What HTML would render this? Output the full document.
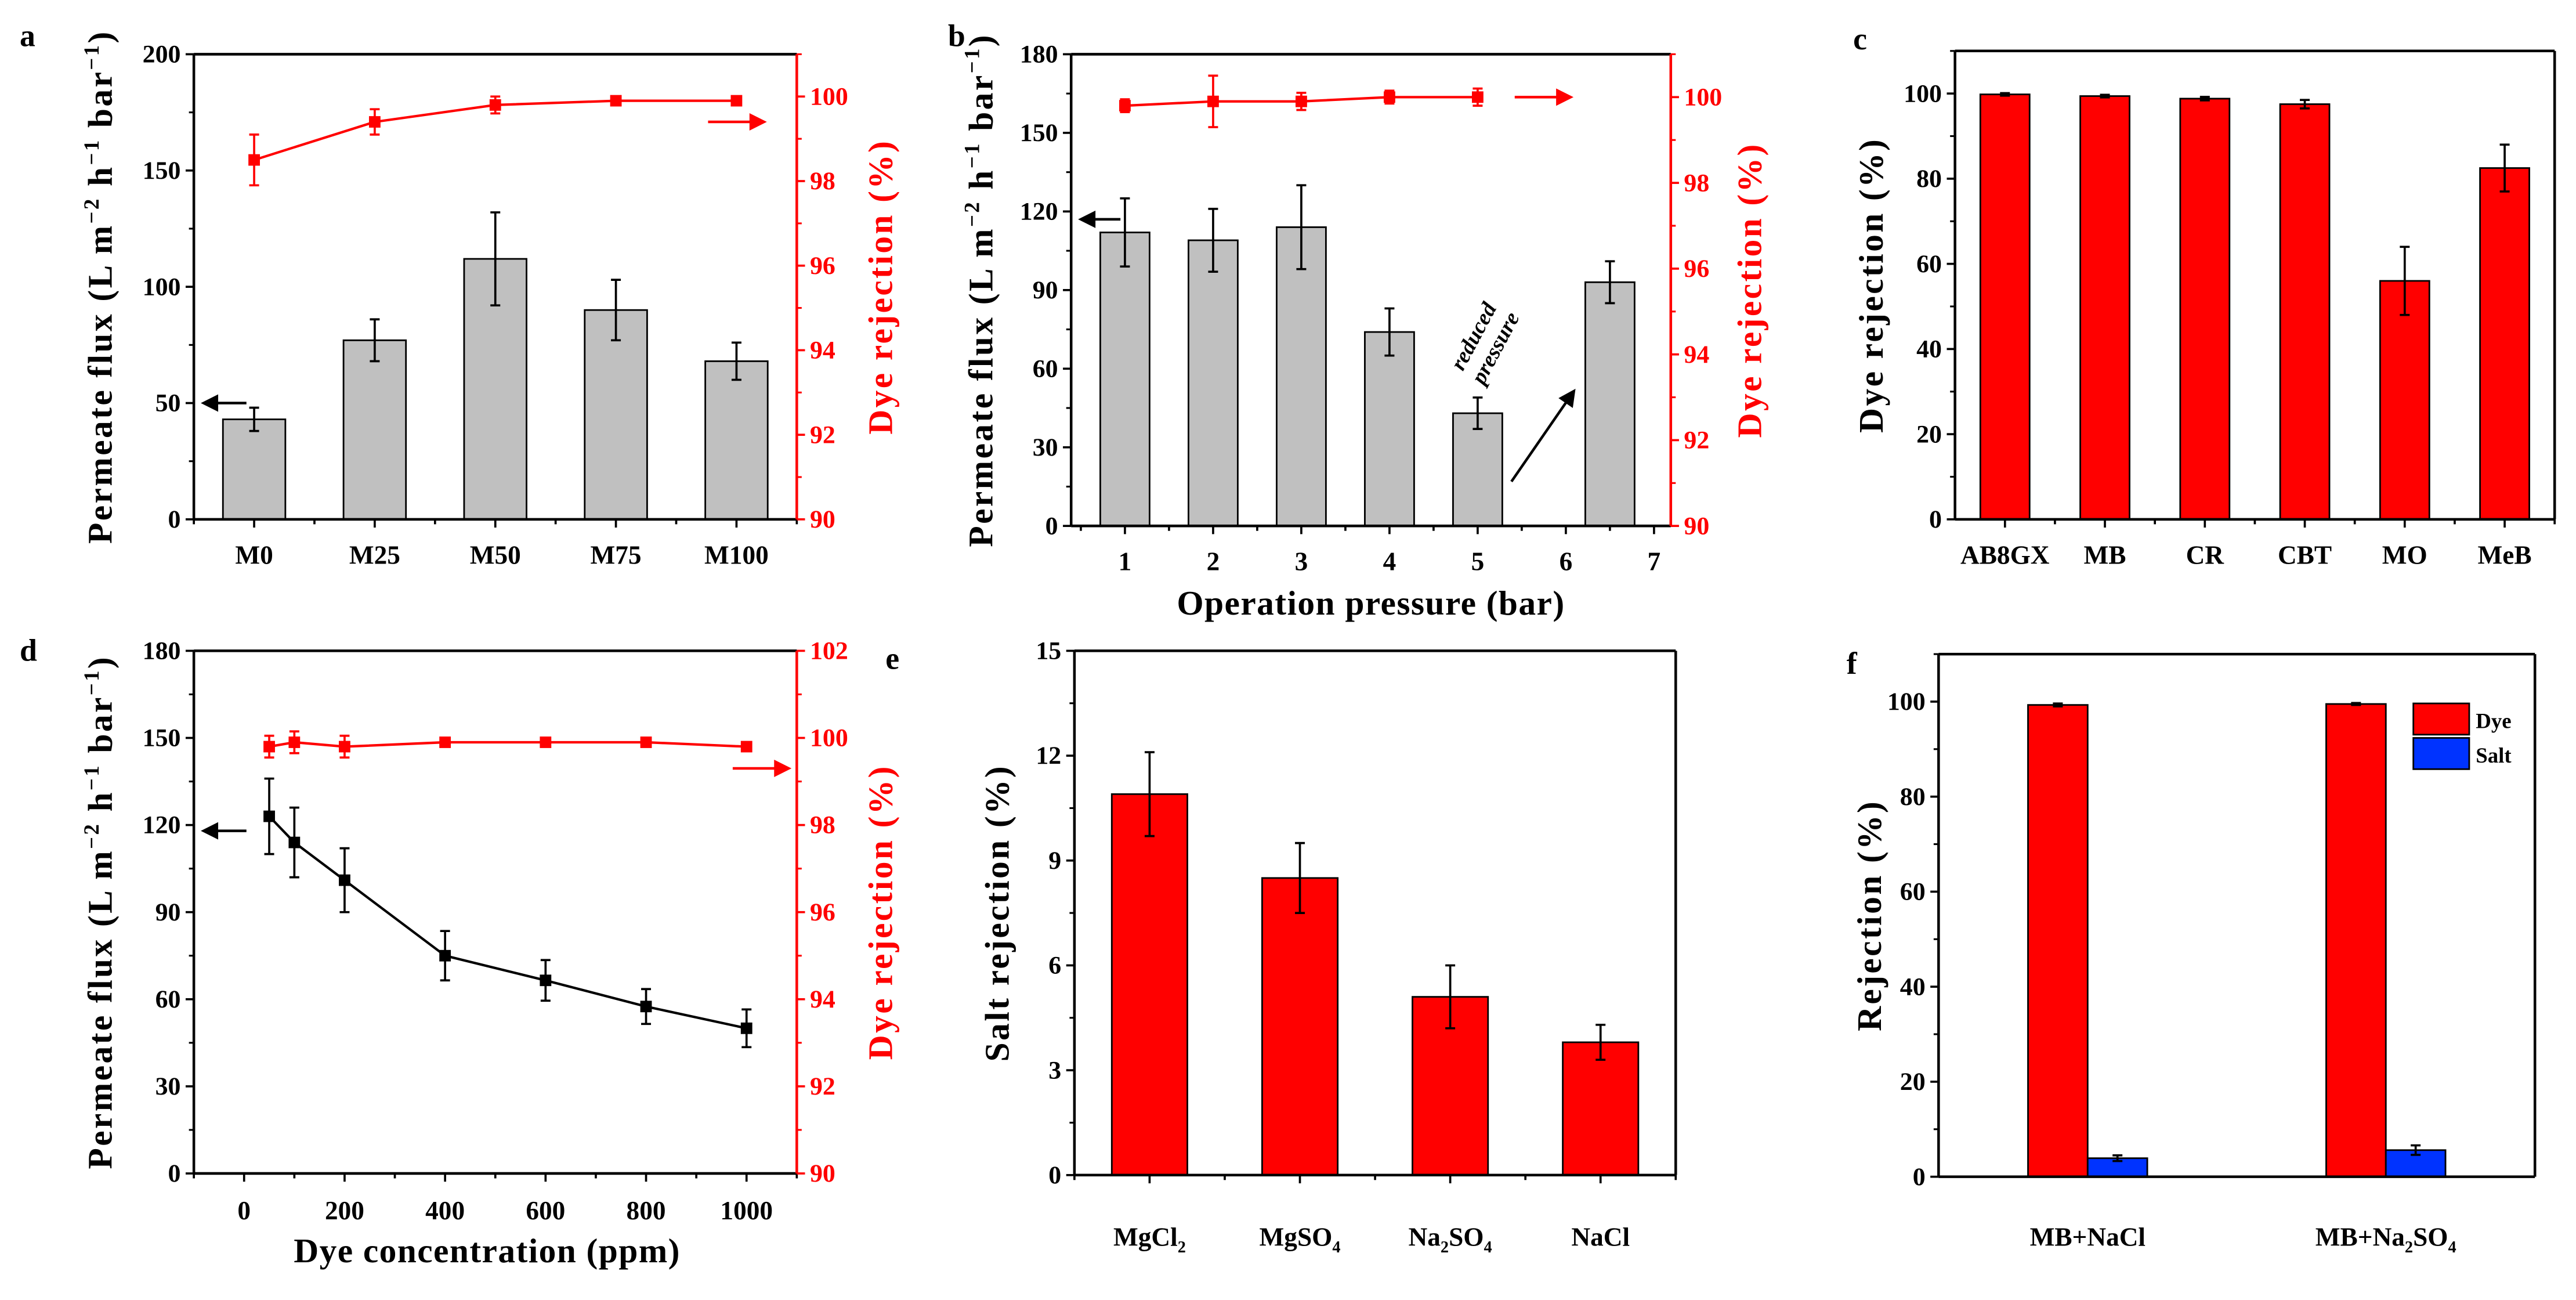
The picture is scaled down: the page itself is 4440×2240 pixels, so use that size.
<!DOCTYPE html>
<html><head><meta charset="utf-8"><style>
html,body{margin:0;padding:0;background:#fff;}
svg{display:block;font-family:"Liberation Serif",serif;font-weight:bold;}
</style></head><body>
<svg id="fig" xmlns="http://www.w3.org/2000/svg" width="4440" height="2240" viewBox="0 0 1568 791" preserveAspectRatio="none"></svg>
<script>
// ---- data ----
const aCats = ["M0","M25","M50","M75","M100"];
const aFlux = [43, 77, 112, 90, 68];
const aFluxErr = [5, 9, 20, 13, 8];
const aRej = [98.5, 99.4, 99.8, 99.9, 99.9];
const aRejErr = [0.6, 0.3, 0.2, 0.1, 0.1];

const bPressure = [1, 2, 3, 4, 5, 6.5];
const bFlux = [112, 109, 114, 74, 43, 93];
const bFluxErr = [13, 12, 16, 9, 6, 8];
const bRejPressure = [1, 2, 3, 4, 5];
const bRej = [99.8, 99.9, 99.9, 100.0, 100.0];
const bRejErr = [0.15, 0.6, 0.2, 0.15, 0.2];
const bTicks = [1, 2, 3, 4, 5, 6, 7];

const cCats = ["AB8GX","MB","CR","CBT","MO","MeB"];
const cRej = [99.8, 99.4, 98.8, 97.5, 56, 82.5];
const cErr = [0.3, 0.3, 0.4, 1.0, 8, 5.5];

const dConc = [50, 100, 200, 400, 600, 800, 1000];
const dFlux = [123, 114, 101, 75, 66.5, 57.5, 50];
const dFluxErr = [13, 12, 11, 8.5, 7, 6, 6.5];
const dRej = [99.8, 99.9, 99.8, 99.9, 99.9, 99.9, 99.8];
const dRejErr = [0.25, 0.25, 0.25, 0.1, 0.1, 0.1, 0.08];
const dTicks = [0, 200, 400, 600, 800, 1000];

const eCats = [["MgCl","2",""],["MgSO","4",""],["Na","2","SO","4"],["NaCl","",""]];
const eRej = [10.9, 8.5, 5.1, 3.8];
const eErr = [1.2, 1.0, 0.9, 0.5];

const fCats = [["MB+NaCl"],["MB+Na","2","SO","4"]];
const fDye = [99.3, 99.5];
const fDyeErr = [0.3, 0.2];
const fSalt = [3.9, 5.6];
const fSaltErr = [0.6, 1.0];

// ---- helpers ----
const NS = "http://www.w3.org/2000/svg";
const svg = document.getElementById('fig');
function mk(tag, parent, attrs){
  const e = document.createElementNS(NS, tag);
  for (const k in attrs) e.setAttribute(k, attrs[k]);
  (parent||svg).appendChild(e);
  return e;
}
function scale(d0,d1,r0,r1){ return v => r0 + (v-d0)/(d1-d0)*(r1-r0); }

function frame(g, L,R,T,B, rightColor){
  const l1 = mk('line', g, {x1:L,y1:B,x2:R,y2:B,stroke:'#000','stroke-width':1.6});
  
  
  const l2 = mk('line', g, {x1:L,y1:T,x2:L,y2:B,stroke:'#000','stroke-width':1.6});
  
  
  const l3 = mk('line', g, {x1:L,y1:T,x2:R,y2:T,stroke:'#000','stroke-width':1.6});
  
  
  const l4 = mk('line', g, {x1:R,y1:T,x2:R,y2:B,stroke:rightColor,'stroke-width':1.6});
  
  
}
function yTicks(g, sy, x, vals, minor, side, color, labelFn){
  const dir = side==='left' ? -1 : 1;
  vals.forEach(v=>{
    const y = sy(v);
    const t = mk('line', g, {x1:x,y1:y,x2:x+dir*5,y2:y,stroke:color,'stroke-width':1.3});
    
    
    const lb = mk('text', g, {x:x+dir*8,y:y+5,'font-size':15.5,fill:color,'text-anchor':side==='left'?'end':'start'});
    lb.textContent = labelFn ? labelFn(v) : v;
    
    
  });
  minor.forEach(v=>{
    const y = sy(v);
    const t = mk('line', g, {x1:x,y1:y,x2:x+dir*3,y2:y,stroke:color,'stroke-width':1.1});
    
    
  });
}
function xTick(g, x, B, len){
  const t = mk('line', g, {x1:x,y1:B,x2:x,y2:B+len,stroke:'#000','stroke-width':1.3});
  
  
}
function xLabel(g, x, y, parts){
  const t = mk('text', g, {x:x,y:y,'font-size':16,'text-anchor':'middle'});
  
  
  parts.forEach((p,i)=>{
    if(p==='') return;
    const s = mk('tspan', t, {});
    if(i%2===1){ s.setAttribute('font-size',10); s.setAttribute('dy',4); }
    else if(i>0){ s.setAttribute('dy',-4); }
    s.textContent = p;
  });
}
function errBar(g, x, y1, y2, color, cap){
  const e = mk('path', g, {d:`M${x},${y1}V${y2}M${x-cap},${y1}H${x+cap}M${x-cap},${y2}H${x+cap}`,stroke:color,'stroke-width':1.3,fill:'none'});
  
  
}
function bar(g, x, w, y, B, fill, name){
  const r = mk('rect', g, {x:x-w/2,y:y,width:w,height:B-y,fill:fill,stroke:'#000','stroke-width':1});
  
  
}
function marker(g, x, y, color){
  const m = mk('rect', g, {x:x-3.5,y:y-3.5,width:7,height:7,fill:color});
  
  
}
function yTitle(g, x, y, text, color, supers){
  const t = mk('text', g, {x:x,y:y,'font-size':21,fill:color,'text-anchor':'middle','letter-spacing':1.2,transform:`rotate(-90 ${x} ${y})`});
  
  
  if(!supers){ t.textContent = text; return; }
  supers.forEach((p,i)=>{
    const s = mk('tspan', t, {});
    if(i%2===1){ s.setAttribute('font-size',13); s.setAttribute('dy',-8); }
    else if(i>0){ s.setAttribute('dy',8); }
    s.textContent = p;
  });
}
function arrow(g, x1, y1, x2, y2, color){
  const ang = Math.atan2(y2-y1, x2-x1);
  const hx = x2 - 8*Math.cos(ang), hy = y2 - 8*Math.sin(ang);
  const px = -Math.sin(ang)*4, py = Math.cos(ang)*4;
  const p = mk('path', g, {d:`M${x1},${y1}L${hx},${hy}M${x2},${y2}L${hx+px},${hy+py}L${hx-px},${hy-py}Z`,stroke:color,'stroke-width':1.6,fill:color});
  
  
}
function letter(g, x, y, s){
  const t = mk('text', g, {x:x,y:y,'font-size':19});
  t.textContent = s;
  
  
}
const fluxTitle = ["Permeate flux (L m","−2"," h","−1"," bar","−1",")"];
function range(a,b,s){const r=[];for(let v=a;v<=b+1e-9;v+=s)r.push(+v.toFixed(4));return r;}

// ---- panel a ----
(function(){
  const g = mk('g', svg, {});  
  const L=118,R=485,T=33,B=316;
  const sx = scale(0.5, aCats.length+0.5, L, R);
  const sy = scale(0,200,B,T), sy2 = scale(90,101,B,T);
  aCats.forEach((c,i)=>{
    bar(g, sx(i+1), 38, sy(aFlux[i]), B, '#c0c0c0', 'flux-bar');
    errBar(g, sx(i+1), sy(aFlux[i]+aFluxErr[i]), sy(aFlux[i]-aFluxErr[i]), '#000', 3);
    xTick(g, sx(i+1), B, 5); xTick(g, sx(i+1.5), B, 3);
    xLabel(g, sx(i+1), B+27, [c]);
  });
  xTick(g, sx(0.5), B, 3);
  const pts = aRej.map((v,i)=>`${sx(i+1)},${sy2(v)}`).join(' ');
  const ln = mk('polyline', g, {points:pts,fill:'none',stroke:'#f00','stroke-width':1.5});
   
  aRej.forEach((v,i)=>{ errBar(g, sx(i+1), sy2(v+aRejErr[i]), sy2(v-aRejErr[i]), '#f00', 3); marker(g, sx(i+1), sy2(v), '#f00'); });
  frame(g,L,R,T,B,'#f00');
  yTicks(g, sy, L, range(0,200,50), range(25,175,50), 'left', '#000');
  yTicks(g, sy2, R, range(90,100,2), range(91,101,2), 'right', '#f00');
  arrow(g, 150, sy(50), 124, sy(50), '#000');
  arrow(g, 431, sy2(99.4), 465, sy2(99.4), '#f00');
  yTitle(g, 68, (T+B)/2, null, '#000', fluxTitle);
  yTitle(g, 543, (T+B)/2, 'Dye rejection (%)', '#f00');
  letter(g, 12, 28, 'a');
})();

// ---- panel b ----
(function(){
  const g = mk('g', svg, {});  
  const L=652,R=1017,T=33,B=320;
  const sx = scale(0.39, 7.19, L, R);
  const sy = scale(0,180,B,T), sy2 = scale(90,101,B,T);
  bPressure.forEach((p,i)=>{
    bar(g, sx(p), 30, sy(bFlux[i]), B, '#c0c0c0', 'flux-bar');
    errBar(g, sx(p), sy(bFlux[i]+bFluxErr[i]), sy(bFlux[i]-bFluxErr[i]), '#000', 3);
  });
  bTicks.forEach(t=>{ xTick(g, sx(t), B, 5); xLabel(g, sx(t), B+27, [String(t)]); });
  range(0.5,6.5,1).forEach(t=>xTick(g, sx(t), B, 3));
  const pts = bRej.map((v,i)=>`${sx(bRejPressure[i])},${sy2(v)}`).join(' ');
  const ln = mk('polyline', g, {points:pts,fill:'none',stroke:'#f00','stroke-width':1.5});
   
  bRej.forEach((v,i)=>{ errBar(g, sx(bRejPressure[i]), sy2(v+bRejErr[i]), sy2(v-bRejErr[i]), '#f00', 3); marker(g, sx(bRejPressure[i]), sy2(v), '#f00'); });
  frame(g,L,R,T,B,'#f00');
  yTicks(g, sy, L, range(0,180,30), range(15,165,30), 'left', '#000');
  yTicks(g, sy2, R, range(90,100,2), range(91,101,2), 'right', '#f00');
  arrow(g, 682, sy(117), 658, sy(117), '#000');
  arrow(g, 922, sy2(100), 956, sy2(100), '#f00');
  arrow(g, 920, 293, 958, 238, '#000');
  const rt = mk('text', g, {x:907,y:210,'font-size':13.5,'font-style':'italic','text-anchor':'middle',transform:'rotate(-62 907 210)'});
   
  const s1 = mk('tspan', rt, {x:907,dy:-7}); s1.textContent='reduced';
  const s2 = mk('tspan', rt, {x:907,dy:15}); s2.textContent='pressure';
  yTitle(g, 604, (T+B)/2, null, '#000', fluxTitle);
  yTitle(g, 1072, (T+B)/2, 'Dye rejection (%)', '#f00');
  const xt = mk('text', g, {x:(L+R)/2,y:374,'font-size':21,'text-anchor':'middle','letter-spacing':0.5});
  xt.textContent='Operation pressure (bar)';  
  letter(g, 577, 28, 'b');
})();

// ---- panel c ----
(function(){
  const g = mk('g', svg, {});  
  const L=1190,R=1555,T=31,B=316;
  const sx = scale(0.5, cCats.length+0.5, L, R);
  const sy = scale(0,110,B,T);
  cCats.forEach((c,i)=>{
    bar(g, sx(i+1), 30, sy(cRej[i]), B, '#f00', 'rejection-bar');
    errBar(g, sx(i+1), sy(cRej[i]+cErr[i]), sy(cRej[i]-cErr[i]), '#000', 3);
    xTick(g, sx(i+1), B, 5); xTick(g, sx(i+1.5), B, 3);
    xLabel(g, sx(i+1), B+27, [c]);
  });
  frame(g,L,R,T,B,'#000');
  yTicks(g, sy, L, range(0,100,20), range(10,110,20), 'left', '#000');
  yTitle(g, 1146, (T+B)/2, 'Dye rejection (%)', '#000');
  letter(g, 1128, 30, 'c');
})();

// ---- panel d ----
(function(){
  const g = mk('g', svg, {});  
  const L=118,R=485,T=396,B=714;
  const sx = scale(-100, 1100, L, R);
  const sy = scale(0,180,B,T), sy2 = scale(90,102,B,T);
  dTicks.forEach(t=>{ xTick(g, sx(t), B, 5); xLabel(g, sx(t), B+28, [String(t)]); });
  range(-100,1100,100).forEach(t=>{ if(t%200!==0) xTick(g, sx(t), B, 3); });
  const p1 = mk('polyline', g, {points:dFlux.map((v,i)=>`${sx(dConc[i])},${sy(v)}`).join(' '),fill:'none',stroke:'#000','stroke-width':1.5});
   
  dFlux.forEach((v,i)=>{ errBar(g, sx(dConc[i]), sy(v+dFluxErr[i]), sy(v-dFluxErr[i]), '#000', 3); marker(g, sx(dConc[i]), sy(v), '#000'); });
  const p2 = mk('polyline', g, {points:dRej.map((v,i)=>`${sx(dConc[i])},${sy2(v)}`).join(' '),fill:'none',stroke:'#f00','stroke-width':1.5});
   
  dRej.forEach((v,i)=>{ errBar(g, sx(dConc[i]), sy2(v+dRejErr[i]), sy2(v-dRejErr[i]), '#f00', 3); marker(g, sx(dConc[i]), sy2(v), '#f00'); });
  frame(g,L,R,T,B,'#f00');
  yTicks(g, sy, L, range(0,180,30), range(15,165,30), 'left', '#000');
  yTicks(g, sy2, R, range(90,102,2), range(91,101,2), 'right', '#f00');
  arrow(g, 150, sy(118), 124, sy(118), '#000');
  arrow(g, 446, sy2(99.3), 480, sy2(99.3), '#f00');
  yTitle(g, 68, (T+B)/2, null, '#000', fluxTitle);
  yTitle(g, 543, (T+B)/2, 'Dye rejection (%)', '#f00');
  const xt = mk('text', g, {x:(L+R)/2 - 5,y:768,'font-size':21,'text-anchor':'middle','letter-spacing':0.5});
  xt.textContent='Dye concentration (ppm)';  
  letter(g, 12, 402, 'd');
})();

// ---- panel e ----
(function(){
  const g = mk('g', svg, {});  
  const L=654,R=1020,T=396,B=715;
  const sx = scale(0.5, eCats.length+0.5, L, R);
  const sy = scale(0,15,B,T);
  eCats.forEach((c,i)=>{
    bar(g, sx(i+1), 46, sy(eRej[i]), B, '#f00', 'salt-rejection-bar');
    errBar(g, sx(i+1), sy(eRej[i]+eErr[i]), sy(eRej[i]-eErr[i]), '#000', 3);
    xTick(g, sx(i+1), B, 5); xTick(g, sx(i+1.5), B, 3);
    xLabel(g, sx(i+1), B+43, c);
  });
  xTick(g, sx(0.5), B, 3);
  frame(g,L,R,T,B,'#000');
  yTicks(g, sy, L, range(0,15,3), range(1.5,13.5,3), 'left', '#000');
  yTitle(g, 614, (T+B)/2, 'Salt rejection (%)', '#000');
  letter(g, 539, 407, 'e');
})();

// ---- panel f ----
(function(){
  const g = mk('g', svg, {});  
  const L=1180,R=1543,T=398,B=716;
  const sx = scale(0.5, fCats.length+0.5, L, R);
  const sy = scale(0,110,B,T);
  const bw = 0.2*(R-L)/2;
  fCats.forEach((c,i)=>{
    const cx = sx(i+1);
    bar(g, cx-bw/2, bw, sy(fDye[i]), B, '#f00', 'dye-rejection-bar');
    errBar(g, cx-bw/2, sy(fDye[i]+fDyeErr[i]), sy(fDye[i]-fDyeErr[i]), '#000', 3);
    bar(g, cx+bw/2, bw, sy(fSalt[i]), B, '#0033ff', 'salt-rejection-bar');
    errBar(g, cx+bw/2, sy(fSalt[i]+fSaltErr[i]), sy(fSalt[i]-fSaltErr[i]), '#000', 3);
    xLabel(g, cx, B+42, c);
  });
  frame(g,L,R,T,B,'#000');
  yTicks(g, sy, L, range(0,100,20), range(10,110,20), 'left', '#000');
  yTitle(g, 1145, (T+B)/2, 'Rejection (%)', '#000');
  const lg = mk('g', g, {});  
  const r1 = mk('rect', lg, {x:1469,y:428,width:34,height:19,fill:'#f00',stroke:'#000','stroke-width':1});
   
  const r2 = mk('rect', lg, {x:1469,y:449,width:34,height:19,fill:'#0033ff',stroke:'#000','stroke-width':1});
   
  const t1 = mk('text', lg, {x:1507,y:443,'font-size':13}); t1.textContent='Dye';
   
  const t2 = mk('text', lg, {x:1507,y:464,'font-size':13}); t2.textContent='Salt';
   
  letter(g, 1124, 410, 'f');
})();
</script>
</body></html>
